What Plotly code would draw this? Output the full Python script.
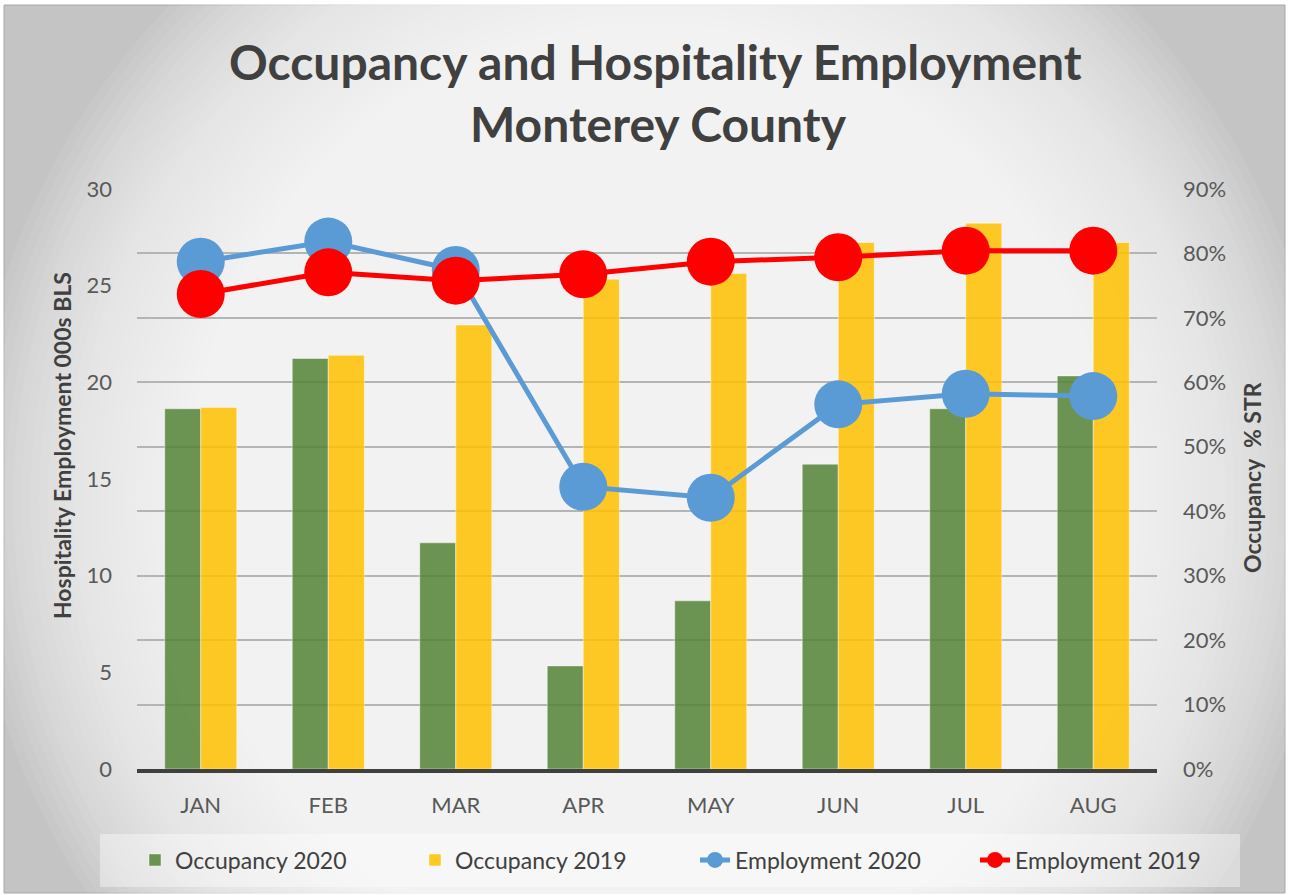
import plotly.graph_objects as go

months = ["JAN", "FEB", "MAR", "APR", "MAY", "JUN", "JUL", "AUG"]
occupancy_2020 = [0.559, 0.637, 0.351, 0.160, 0.261, 0.473, 0.559, 0.610]
occupancy_2019 = [0.561, 0.642, 0.689, 0.760, 0.769, 0.817, 0.847, 0.817]
employment_2020 = [26.24, 27.28, 25.81, 14.60, 14.03, 18.86, 19.41, 19.29]
employment_2019 = [24.57, 25.69, 25.26, 25.59, 26.24, 26.47, 26.81, 26.81]

W, H = 1289, 895
L, R, T, B = 137, 1157, 189, 769


def px(x):
    return (x - L) / (R - L)


def py(y):
    return (B - y) / (B - T)


FONT = "Lato"

fig = go.Figure()
fig.add_trace(go.Bar(
    x=months, y=occupancy_2020, name="Occupancy 2020", yaxis="y",
    marker=dict(color="rgba(84,130,53,0.85)", line=dict(color="rgba(255,255,255,0.45)", width=1)),
))
fig.add_trace(go.Bar(
    x=months, y=occupancy_2019, name="Occupancy 2019", yaxis="y",
    marker=dict(color="rgba(255,192,0,0.85)", line=dict(color="rgba(255,255,255,0.45)", width=1)),
))
fig.add_trace(go.Scatter(
    x=months, y=employment_2020, name="Employment 2020", yaxis="y2", mode="lines+markers",
    line=dict(color="#5b9bd5", width=5), marker=dict(color="#5b9bd5", size=48),
))
fig.add_trace(go.Scatter(
    x=months, y=employment_2019, name="Employment 2019", yaxis="y2", mode="lines+markers",
    line=dict(color="#ff0000", width=5), marker=dict(color="#ff0000", size=48),
))

shapes = []
# base frame
shapes.append(dict(type="rect", xref="paper", yref="paper", layer="below",
                   x0=px(4), x1=px(1285), y0=py(5), y1=py(893),
                   fillcolor="#c4c4c4", line=dict(color="#a8a8a8", width=1)))
# radial gradient approximation (white core, grey rim)
N = 60
cx, cy = 650, 500
for k in range(N):
    f = 1.0 - 0.75 * k / (N - 1)
    rx, ry = 680 * f, 700 * f
    shapes.append(dict(type="circle", xref="paper", yref="paper", layer="below",
                       x0=px(cx - rx), x1=px(cx + rx), y0=py(cy + ry), y1=py(cy - ry),
                       fillcolor="rgba(255,255,255,0.07)", line=dict(width=0)))
# legend box
shapes.append(dict(type="rect", xref="paper", yref="paper", layer="below",
                   x0=px(100), x1=px(1240), y0=py(834), y1=py(887),
                   fillcolor="rgba(255,255,255,0.4)", line=dict(width=0)))

annotations = [
    dict(text="<b>Occupancy and Hospitality Employment</b>", xref="paper", yref="paper",
         x=px(655), y=py(62), xanchor="center", yanchor="middle", showarrow=False,
         font=dict(family=FONT, size=48, color="#404040")),
    dict(text="<b>Monterey County</b>", xref="paper", yref="paper",
         x=px(658), y=py(123), xanchor="center", yanchor="middle", showarrow=False,
         font=dict(family=FONT, size=48, color="#404040")),
    dict(text="<b>Hospitality Employment 000s BLS</b>", xref="paper", yref="paper",
         x=px(62), y=py(446), xanchor="center", yanchor="middle", showarrow=False, textangle=-90,
         font=dict(family=FONT, size=23, color="#404040")),
    dict(text="<b>Occupancy&nbsp; % STR</b>", xref="paper", yref="paper",
         x=px(1252), y=py(478), xanchor="center", yanchor="middle", showarrow=False, textangle=-90,
         font=dict(family=FONT, size=23, color="#404040")),
]

tickfont = dict(family=FONT, size=22, color="#595959")

fig.update_layout(
    width=W, height=H,
    margin=dict(l=L, r=W - R, t=T, b=H - B, pad=0),
    paper_bgcolor="white", plot_bgcolor="rgba(0,0,0,0)",
    barmode="group", bargap=0.435, bargroupgap=0,
    shapes=shapes, annotations=annotations,
    showlegend=True,
    legend=dict(orientation="h", x=px(135), y=py(860), xanchor="left", yanchor="middle",
                bgcolor="rgba(0,0,0,0)", font=dict(family=FONT, size=23, color="#404040"),
                entrywidth=235, entrywidthmode="pixels", traceorder="normal"),
    xaxis=dict(type="category", range=[-0.5, 7.5], showgrid=False, showline=True,
               linecolor="#404040", linewidth=3.5,
               ticks="", tickfont=tickfont, ticklabelstandoff=14, zeroline=False),
    yaxis=dict(side="right", range=[0, 0.9], dtick=0.1, tickformat=".0%", showgrid=True,
               gridcolor="#b4b4b4", gridwidth=2, zeroline=False, showline=False, ticks="",
               tickfont=tickfont, ticklabelstandoff=25),
    yaxis2=dict(overlaying="y", side="left", range=[0, 30], dtick=5, showgrid=False,
                zeroline=False, showline=False, ticks="", tickfont=tickfont, ticklabelstandoff=24),
)

fig.write_html("out.html", config={"displayModeBar": False},
               post_script="document.body.style.margin='0px';")
